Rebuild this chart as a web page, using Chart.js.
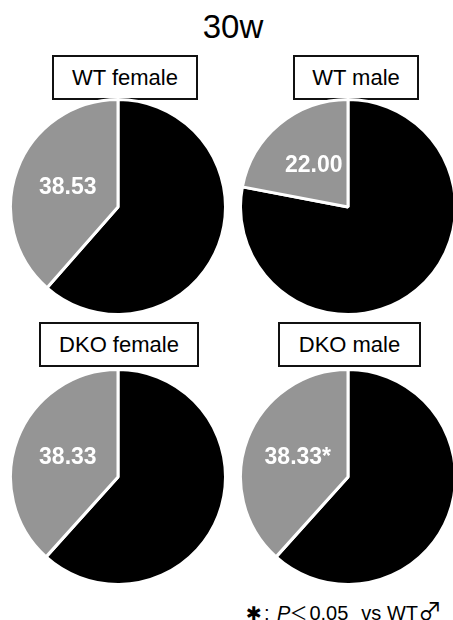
<!DOCTYPE html>
<html>
<head>
<meta charset="utf-8">
<script src="https://cdn.jsdelivr.net/npm/chart.js@4/dist/chart.umd.min.js"></script>
<style>
  html, body { margin: 0; padding: 0; background: #fff; }
  body { width: 453px; height: 620px; position: relative; overflow: hidden;
         font-family: "Liberation Sans", Arial, "Noto Sans CJK JP", sans-serif; color: #000; }
  .title { position: absolute; left: 0; width: 466px; top: 10px; text-align: center;
           font-size: 33px; line-height: 33px; }
  .box { position: absolute; box-sizing: border-box; border: 2px solid #111; background: #fff;
         display: flex; align-items: center; justify-content: center;
         font-size: 22px; line-height: 22px; white-space: nowrap; }
  canvas { position: absolute; }
  .note { position: absolute; left: 246px; top: 600px; font-size: 20px; line-height: 20px;
          white-space: pre; }
  .note .ast { font-family: "DejaVu Sans", sans-serif; font-size: 19px; margin-right: 2px; }
  .note .p { margin-left: 2px; }
  .note .lt { font-family: "Noto Sans CJK JP", sans-serif; font-size: 18px; margin-left: -1px; margin-right: 2px; }
  .note .vs { margin-left: 13px; }
  .note .male { font-family: "Noto Sans CJK JP", sans-serif; font-size: 24px; margin-left: 0px; }
</style>
</head>
<body>
<div class="title">30w</div>

<div class="box" style="left:52px;top:55px;width:146px;height:45px;">WT female</div>
<div class="box" style="left:293px;top:55px;width:126px;height:45px;">WT male</div>
<div class="box" style="left:39px;top:322px;width:160px;height:45px;">DKO female</div>
<div class="box" style="left:278px;top:322px;width:143px;height:45px;">DKO male</div>

<canvas id="pie0" width="218" height="218" style="left:9px;top:98px;"></canvas>
<canvas id="pie1" width="218" height="218" style="left:239px;top:98px;"></canvas>
<canvas id="pie2" width="218" height="218" style="left:9px;top:368px;"></canvas>
<canvas id="pie3" width="218" height="218" style="left:239px;top:368px;"></canvas>

<div class="note"><span class="ast">✱</span>; <i class="p">P</i><span class="lt">＜</span>0.05<span class="vs">vs</span> WT<span class="male">♂</span></div>

<script>
// Group names (drawn in the boxed headers above each pie)
const groups = ['WT female', 'WT male', 'DKO female', 'DKO male'];
// Share of the grey slice (%) per group
const greyShare = [38.53, 22.00, 38.33, 38.33];
// Share of the black slice (%) per group
const blackShare = [61.47, 78.00, 61.67, 61.67];
// Significance marks appended to the grey slice value
const marks = ['', '', '', '*'];

const BLACK = '#000000';
const GREY = '#959595';

// Writes the grey slice's value inside the slice
const sliceValueLabel = {
  id: 'sliceValueLabel',
  afterDatasetsDraw(chart, args, opts) {
    const ctx = chart.ctx;
    const meta = chart.getDatasetMeta(0);
    const arc = meta.data[1];
    const value = chart.data.datasets[0].data[1];
    const pos = arc.tooltipPosition();
    ctx.save();
    ctx.fillStyle = '#ffffff';
    ctx.font = 'bold 23px "Liberation Sans", Arial, sans-serif';
    ctx.textAlign = 'center';
    ctx.textBaseline = 'middle';
    ctx.fillText(value.toFixed(2) + opts.mark, pos.x, pos.y);
    ctx.restore();
  }
};

groups.forEach((name, i) => {
  new Chart(document.getElementById('pie' + i), {
    type: 'pie',
    data: {
      labels: ['black', 'grey'],
      datasets: [{
        label: name,
        data: [blackShare[i], greyShare[i]],
        backgroundColor: [BLACK, GREY],
        borderColor: '#ffffff',
        borderWidth: 3
      }]
    },
    options: {
      responsive: false,
      animation: false,
      devicePixelRatio: 1,
      layout: { padding: 0 },
      plugins: {
        legend: { display: false },
        tooltip: { enabled: false },
        sliceValueLabel: { mark: marks[i] }
      }
    },
    plugins: [sliceValueLabel]
  });
});
</script>
</body>
</html>
